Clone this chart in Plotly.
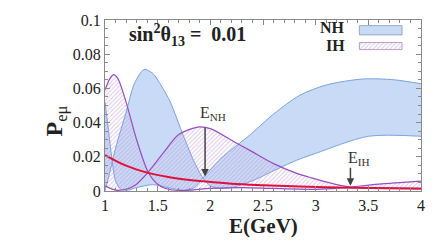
import plotly.graph_objects as go

# ---- data ----
E_nh_a = [1.0, 1.03, 1.063, 1.1, 1.15, 1.22, 1.3, 1.45, 1.6, 1.75, 1.85, 1.93, 2.1, 2.38, 2.6, 2.85, 3.1, 3.45, 3.75, 4.0]
P_nh_a = [0.052, 0.037, 0.020, 0.006, 0.001, 0.0005, 0.002, 0.0037, 0.002, 0.0005, 0.002, 0.0075, 0.019, 0.033, 0.045, 0.056, 0.062, 0.0655, 0.065, 0.0627]
E_nh_b = [1.0, 1.05, 1.1, 1.2, 1.28, 1.37, 1.45, 1.55, 1.62, 1.74, 1.84, 1.93, 2.0, 2.1, 2.2, 2.4, 2.64, 2.82, 3.0, 3.5, 4.0]
P_nh_b = [0.0, 0.012, 0.025, 0.046, 0.063, 0.071, 0.069, 0.06, 0.052, 0.033, 0.018, 0.0075, 0.003, 0.0015, 0.002, 0.006, 0.013, 0.018, 0.022, 0.032, 0.032]

E_ih_c = [1.0, 1.04, 1.08, 1.12, 1.2, 1.3, 1.41, 1.5, 1.6, 1.75, 2.0, 2.3, 2.6, 3.0, 3.2, 3.33, 3.6, 4.0]
P_ih_c = [0.059, 0.065, 0.068, 0.066, 0.052, 0.030, 0.011, 0.004, 0.001, 0.0003, 0.0015, 0.002, 0.0015, 0.001, 0.0015, 0.0023, 0.004, 0.0058]
E_ih_d = [1.0, 1.1, 1.2, 1.3, 1.41, 1.55, 1.7, 1.88, 2.0, 2.22, 2.38, 2.6, 2.82, 2.97, 3.15, 3.33, 3.6, 4.0]
P_ih_d = [0.003, 0.0005, 0.001, 0.004, 0.011, 0.022, 0.033, 0.0374, 0.0365, 0.029, 0.0236, 0.016, 0.0103, 0.0075, 0.0045, 0.0023, 0.0019, 0.0016]

E_red = [1.0, 1.2, 1.41, 1.6, 1.8, 1.93, 2.2, 2.5, 2.85, 3.33, 3.7, 4.0]
P_red = [0.021, 0.0148, 0.0106, 0.0082, 0.0065, 0.0057, 0.0043, 0.0034, 0.0026, 0.0019, 0.0016, 0.0013]

x_ticks = [1, 1.5, 2, 2.5, 3, 3.5, 4]
x_ticklabels = ["1", "1.5", "2", "2.5", "3", "3.5", "4"]
y_ticks = [0, 0.02, 0.04, 0.06, 0.08, 0.1]
y_ticklabels = ["0", "0.02", "0.04", "0.06", "0.08", "0.1"]

E_NH_pos, E_IH_pos = 1.95, 3.33

# ---- styles ----
SERIF = "Liberation Serif"
BLUE_FILL = "#c8daf6"
BLUE_LINE = "#7aa3e3"
PURPLE_LINE = "#9a4cc0"
HATCH = "#b98bd0"
RED = "#e0103c"

fig = go.Figure()

# NH band
fig.add_trace(go.Scatter(x=E_nh_a, y=P_nh_a, mode="lines", line=dict(color=BLUE_LINE, width=1, shape="spline", smoothing=0.8),
                         showlegend=False, hoverinfo="skip"))
fig.add_trace(go.Scatter(x=E_nh_b, y=P_nh_b, mode="lines", line=dict(color=BLUE_LINE, width=1, shape="spline", smoothing=0.8),
                         fill="tonexty", fillcolor=BLUE_FILL, showlegend=False, hoverinfo="skip"))
# IH band (hatched)
fig.add_trace(go.Scatter(x=E_ih_c, y=P_ih_c, mode="lines", line=dict(color=PURPLE_LINE, width=1.2, shape="spline", smoothing=0.8),
                         showlegend=False, hoverinfo="skip"))
fig.add_trace(go.Scatter(x=E_ih_d, y=P_ih_d, mode="lines", line=dict(color=PURPLE_LINE, width=1.2, shape="spline", smoothing=0.8),
                         fill="tonexty", fillcolor="rgba(0,0,0,0)",
                         fillpattern=dict(shape="/", fgcolor=HATCH, bgcolor="rgba(255,255,255,0)", size=3, solidity=0.3),
                         showlegend=False, hoverinfo="skip"))
# red curve
fig.add_trace(go.Scatter(x=E_red, y=P_red, mode="lines", line=dict(color=RED, width=2, shape="spline"),
                         showlegend=False, hoverinfo="skip"))

# legend swatches on an overlay axis (unit box)
fig.add_trace(go.Scatter(x=[0.805, 0.94, 0.94, 0.805, 0.805], y=[0.913, 0.913, 0.967, 0.967, 0.913],
                         xaxis="x2", yaxis="y2", mode="lines", fill="toself", fillcolor=BLUE_FILL,
                         line=dict(color="#98a8c8", width=1), showlegend=False, hoverinfo="skip"))
fig.add_trace(go.Scatter(x=[0.805, 0.94, 0.94, 0.805, 0.805], y=[0.827, 0.827, 0.868, 0.868, 0.827],
                         xaxis="x2", yaxis="y2", mode="lines", fill="toself", fillcolor="rgba(0,0,0,0)",
                         fillpattern=dict(shape="/", fgcolor=HATCH, bgcolor="rgba(255,255,255,0)", size=3, solidity=0.3),
                         line=dict(color="#b9a0c8", width=1), showlegend=False, hoverinfo="skip"))

axis_common = dict(showgrid=False, zeroline=False, showline=True, linecolor="#8a8a8a", linewidth=1,
                   mirror="allticks", ticks="inside", ticklen=5, tickcolor="#8a8a8a",
                   tickfont=dict(family=SERIF, size=16, color="#222"))

fig.update_layout(
    width=447, height=245,
    margin=dict(l=105, r=26, t=17, b=54),
    paper_bgcolor="white", plot_bgcolor="white",
    font=dict(family=SERIF),
    xaxis=dict(range=[1, 4], tickvals=x_ticks, ticktext=x_ticklabels,
               minor=dict(dtick=0.1, ticks="inside", ticklen=3, tickcolor="#8a8a8a"), **axis_common),
    yaxis=dict(range=[0, 0.1], tickvals=y_ticks, ticktext=y_ticklabels,
               minor=dict(dtick=0.005, ticks="inside", ticklen=3, tickcolor="#8a8a8a"), **axis_common),
    xaxis2=dict(domain=[0, 1], range=[0, 1], visible=False, anchor="y2", overlaying="x"),
    yaxis2=dict(domain=[0, 1], range=[0, 1], visible=False, anchor="x2", overlaying="y"),
)

annos = [
    dict(x=0.5, y=-0.207, xref="paper", yref="paper", text="<b>E(GeV)</b>", showarrow=False,
         xanchor="center", yanchor="middle", font=dict(family=SERIF, size=21, color="#222")),
    dict(x=-0.21, y=0.41, xref="paper", yref="paper", text="<b>P</b><sub>eμ</sub>", showarrow=False,
         textangle=-90, font=dict(family=SERIF, size=24, color="#222")),
    dict(x=0.07, y=0.915, xref="paper", yref="paper", text="<b>sin<sup>2</sup>θ<sub>13</sub> = &nbsp;0.01</b>",
         showarrow=False, xanchor="left", yanchor="middle", font=dict(family=SERIF, size=20, color="#222")),
    dict(x=0.765, y=0.955, xref="paper", yref="paper", text="<b>NH</b>", showarrow=False,
         xanchor="right", yanchor="middle", font=dict(family=SERIF, size=16, color="#222")),
    dict(x=0.765, y=0.85, xref="paper", yref="paper", text="<b>IH</b>", showarrow=False,
         xanchor="right", yanchor="middle", font=dict(family=SERIF, size=16, color="#222")),
    dict(x=2.03, y=0.0455, text="E<sub>NH</sub>", showarrow=False, xanchor="center", yanchor="middle",
         font=dict(family=SERIF, size=16, color="#333")),
    dict(x=E_NH_pos, y=0.0085, ax=E_NH_pos, ay=0.038, axref="x", ayref="y", text="", showarrow=True,
         arrowhead=2, arrowsize=1, arrowwidth=1.5, arrowcolor="#444"),
    dict(x=3.41, y=0.019, text="E<sub>IH</sub>", showarrow=False, xanchor="center", yanchor="middle",
         font=dict(family=SERIF, size=16, color="#333")),
    dict(x=E_IH_pos, y=0.003, ax=E_IH_pos, ay=0.0145, axref="x", ayref="y", text="", showarrow=True,
         arrowhead=2, arrowsize=1, arrowwidth=1.5, arrowcolor="#444"),
]
fig.update_layout(annotations=annos)

fig.write_html("out.html", config={"displayModeBar": False},
               post_script="document.body.style.margin='0';document.body.style.padding='0';")
